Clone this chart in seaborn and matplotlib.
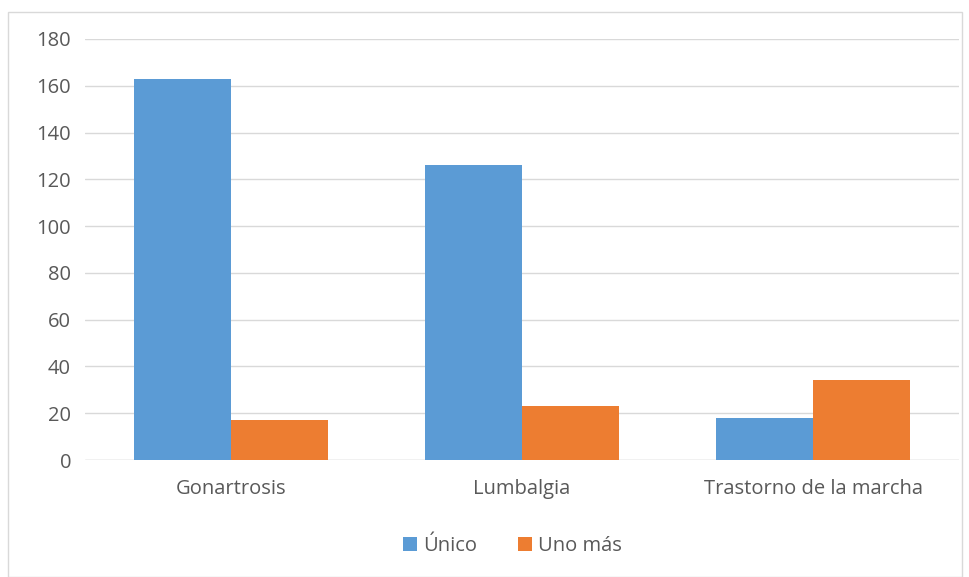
import matplotlib
matplotlib.use("Agg")
import matplotlib.pyplot as plt
import seaborn as sns
import pandas as pd
from matplotlib.patches import Rectangle

categories = ["Gonartrosis", "Lumbalgia", "Trastorno de la marcha"]
unico = [163, 126, 18]
uno_mas = [17, 23, 34]
series_names = ["Único", "Uno más"]
yticks = [0, 20, 40, 60, 80, 100, 120, 140, 160, 180]

df = pd.DataFrame({
    "cat": categories * 2,
    "serie": [series_names[0]] * 3 + [series_names[1]] * 3,
    "val": unico + uno_mas,
})

sns.set_theme(style="white")
plt.rcParams["font.family"] = ["Open Sans", "DejaVu Sans"]
text_color = "#595959"
fs = 14.5

fig = plt.figure(figsize=(9.7, 5.77), dpi=100)
fig.patches.append(Rectangle((8 / 970, 0), 1 - 16 / 970, 1 - 12 / 577, transform=fig.transFigure,
                             fill=False, edgecolor="#D9D9D9", linewidth=1))
ax = fig.add_axes([85 / 970, 117 / 577, (959 - 85) / 970, (538 - 117) / 577])

sns.barplot(data=df, x="cat", y="val", hue="serie", order=categories, hue_order=series_names,
            palette=["#5B9BD5", "#ED7D31"], width=0.667, gap=0, saturation=1,
            ax=ax, legend=True, linewidth=0)

ax.set_ylim(0, 180)
ax.set_yticks(yticks)
ax.set_xlim(-0.5, 2.5)
ax.yaxis.grid(True, color="#D9D9D9", linewidth=1)
ax.set_axisbelow(True)
for s in ax.spines.values():
    s.set_visible(False)
ax.axhline(0, color="#D9D9D9", linewidth=1, zorder=0.5)
ax.set_xlabel("")
ax.set_ylabel("")
ax.tick_params(axis="both", length=0, labelsize=fs, labelcolor=text_color)
ax.tick_params(axis="y", pad=10)
ax.tick_params(axis="x", pad=14)

leg = ax.legend(loc="center", bbox_to_anchor=(0.489, -(546 - 460) / 421), ncol=2,
                frameon=False, fontsize=fs, handlelength=0.7, handleheight=0.7, columnspacing=2.0,
                handletextpad=0.3, bbox_transform=ax.transAxes)
for t in leg.get_texts():
    t.set_color(text_color)

fig.savefig("out.png", dpi=100)
